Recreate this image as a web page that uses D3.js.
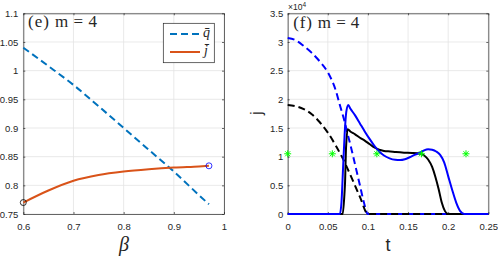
<!DOCTYPE html>
<html>
<head>
<meta charset="utf-8">
<script src="https://cdn.jsdelivr.net/npm/d3@7"></script>
<style>
body { margin: 0; background: #fff; }
text { font-family: "Liberation Sans", Arial, sans-serif; fill: #262626; }
</style>
</head>
<body>
<div id="chart"></div>
<script>
// panel (e): mean values against beta
var beta = [0.6, 0.65, 0.7, 0.75, 0.8, 0.85, 0.9, 0.95, 0.97];
var qBar = [1.04, 1.008, 0.975, 0.938, 0.90, 0.862, 0.824, 0.783, 0.767];
var jBar = [0.770, 0.791, 0.808, 0.818, 0.824, 0.828, 0.831, 0.833, 0.834];
var eXTicks = [0.6, 0.7, 0.8, 0.9, 1];
var eYTicks = [0.75, 0.8, 0.85, 0.9, 0.95, 1, 1.05, 1.1];

// panel (f): j(t), values in units of 1e4
var tBlueDash = [0, 0.01, 0.02, 0.03, 0.04, 0.05, 0.06, 0.065, 0.07, 0.075, 0.08, 0.085, 0.09, 0.095, 0.1, 0.25];
var vBlueDash = [3.07, 3.03, 2.93, 2.81, 2.66, 2.47, 2.15, 1.90, 1.66, 1.38, 1.10, 0.80, 0.50, 0.20, 0, 0];
var tBlackDash = [0, 0.01, 0.02, 0.03, 0.04, 0.05, 0.06, 0.07, 0.08, 0.09, 0.1, 0.25];
var vBlackDash = [1.90, 1.88, 1.83, 1.74, 1.60, 1.42, 1.19, 0.93, 0.62, 0.30, 0, 0];
var tBlue = [0, 0.065, 0.067, 0.069, 0.071, 0.073, 0.0755, 0.078, 0.084, 0.09, 0.096, 0.102, 0.108, 0.114, 0.12, 0.127,
  0.134, 0.14, 0.146, 0.152, 0.158, 0.165, 0.17, 0.175, 0.18, 0.185, 0.19, 0.195, 0.2, 0.205, 0.21, 0.215, 0.22, 0.25];
var vBlue = [0, 0, 0.2, 0.8, 1.4, 1.78, 1.90, 1.84, 1.72, 1.58, 1.44, 1.31, 1.19, 1.09, 1.02, 0.97,
  0.945, 0.94, 0.955, 0.99, 1.03, 1.07, 1.11, 1.13, 1.12, 1.09, 1.03, 0.90, 0.66, 0.42, 0.20, 0.05, 0, 0];
var tBlack = [0, 0.0685, 0.0705, 0.0715, 0.0727, 0.0748, 0.078, 0.084, 0.09, 0.096, 0.102, 0.108, 0.114, 0.12, 0.128,
  0.135, 0.145, 0.155, 0.165, 0.17, 0.175, 0.18, 0.184, 0.188, 0.192, 0.196, 0.2, 0.25];
var vBlack = [0, 0, 0.3, 0.56, 1.15, 1.48, 1.44, 1.39, 1.33, 1.28, 1.22, 1.16, 1.12, 1.10, 1.09,
  1.08, 1.07, 1.065, 1.05, 1.02, 0.95, 0.82, 0.65, 0.44, 0.2, 0.05, 0, 0];
var tStar = [0, 0.0556, 0.1111, 0.1667, 0.2222];
var vStar = [1.05, 1.05, 1.05, 1.05, 1.05];
var fXTicks = [0, 0.05, 0.1, 0.15, 0.2, 0.25];
var fYTicks = [0, 0.5, 1, 1.5, 2, 2.5, 3, 3.5];

var svg = d3.select("#chart")
  .append("svg")
  .attr("width", 498)
  .attr("height", 256);

var yTop = 13.3, yBot = 214;

function panel(xDom, xRange, yDom, xTicks, yTicks, labGap) {
  var x = d3.scaleLinear().domain(xDom).range(xRange);
  var y = d3.scaleLinear().domain(yDom).range([yBot, yTop]);
  var g = svg.append("g");

  // grid
  g.selectAll(".gx").data(xTicks).enter().append("line")
    .attr("x1", d => x(d)).attr("x2", d => x(d))
    .attr("y1", yTop).attr("y2", yBot)
    .attr("stroke", "#e3e3e3").attr("stroke-width", 0.8);
  g.selectAll(".gy").data(yTicks).enter().append("line")
    .attr("x1", xRange[0]).attr("x2", xRange[1])
    .attr("y1", d => y(d)).attr("y2", d => y(d))
    .attr("stroke", "#e3e3e3").attr("stroke-width", 0.8);

  var fmt = function(d) { return String(d); };
  var ax = [
    [d3.axisBottom(x).tickValues(xTicks).tickFormat(fmt), "translate(0," + yBot + ")"],
    [d3.axisTop(x).tickValues(xTicks).tickFormat(""), "translate(0," + yTop + ")"],
    [d3.axisLeft(y).tickValues(yTicks).tickFormat(fmt), "translate(" + xRange[0] + ",0)"],
    [d3.axisRight(y).tickValues(yTicks).tickFormat(""), "translate(" + xRange[1] + ",0)"]
  ];
  ax.forEach(function(a, i) {
    var s = g.append("g").attr("transform", a[1])
      .call(a[0].tickSizeInner(-2).tickSizeOuter(0).tickPadding(i == 0 ? 9 : labGap));
    s.selectAll("path, line").attr("stroke", "#262626").attr("stroke-width", 0.7);
    s.selectAll("text").style("font-size", "9.5px").attr("fill", "#262626")
      .style("font-family", "'Liberation Sans', Arial, sans-serif");
  });
  return { x: x, y: y, g: g };
}

// ---------- panel (e)
var e = panel([0.6, 1], [23.3, 224], [0.75, 1.1], eXTicks, eYTicks, 5);
var lineE = d3.line().x(d => e.x(d[0])).y(d => e.y(d[1])).curve(d3.curveMonotoneX);

e.g.append("path")
  .datum(d3.zip(beta, qBar))
  .attr("fill", "none").attr("stroke", "#0072BD").attr("stroke-width", 2)
  .attr("stroke-dasharray", "7,4")
  .attr("d", lineE);
e.g.append("path")
  .datum(d3.zip(beta, jBar))
  .attr("fill", "none").attr("stroke", "#D95319").attr("stroke-width", 2)
  .attr("d", lineE);
e.g.append("circle")
  .attr("cx", e.x(beta[0])).attr("cy", e.y(jBar[0])).attr("r", 3)
  .attr("fill", "none").attr("stroke", "#000").attr("stroke-width", 0.8);
e.g.append("circle")
  .attr("cx", e.x(beta[beta.length - 1])).attr("cy", e.y(jBar[jBar.length - 1])).attr("r", 3)
  .attr("fill", "none").attr("stroke", "#0000FF").attr("stroke-width", 0.8);

e.g.append("text")
  .attr("x", 28).attr("y", 27)
  .style("font-family", "'Liberation Serif', 'DejaVu Serif', serif").style("font-size", "17px")
  .attr("fill", "#000").attr("textLength", 69).attr("lengthAdjust", "spacing")
  .text("(e) m\u2009=\u20094");

// legend
var leg = e.g.append("g");
leg.append("rect")
  .attr("x", 163.3).attr("y", 23.3).attr("width", 51).attr("height", 39.4)
  .attr("fill", "#fff").attr("stroke", "#262626").attr("stroke-width", 0.7);
leg.append("line").attr("x1", 170).attr("x2", 200).attr("y1", 34).attr("y2", 34)
  .attr("stroke", "#0072BD").attr("stroke-width", 2).attr("stroke-dasharray", "7,4");
leg.append("line").attr("x1", 170).attr("x2", 200).attr("y1", 52).attr("y2", 52)
  .attr("stroke", "#D95319").attr("stroke-width", 2);
leg.append("text").attr("x", 203).attr("y", 37)
  .style("font-family", "'Liberation Serif', serif").style("font-style", "italic").style("font-size", "14px")
  .attr("fill", "#000").text("q\u0304");
leg.append("text").attr("x", 204).attr("y", 55)
  .style("font-family", "'Liberation Serif', serif").style("font-style", "italic").style("font-size", "14px")
  .attr("fill", "#000").text("j\u0304");

svg.append("text")
  .attr("x", 124).attr("y", 251).attr("text-anchor", "middle")
  .style("font-family", "'Liberation Serif', serif").style("font-style", "italic").style("font-size", "20px")
  .attr("fill", "#262626").text("\u03B2");

// ---------- panel (f)
var f = panel([0, 0.25], [287.7, 488.3], [0, 3.5], fXTicks, fYTicks, 4.5);
var lineF = d3.line().x(d => f.x(d[0])).y(d => f.y(d[1])).curve(d3.curveMonotoneX);

var fSeries = [
  [tBlueDash, vBlueDash, "#0000FF", "7,4"],
  [tBlackDash, vBlackDash, "#000000", "7,4"],
  [tBlack, vBlack, "#000000", null],
  [tBlue, vBlue, "#0000FF", null]
];
fSeries.forEach(function(s) {
  f.g.append("path")
    .datum(d3.zip(s[0], s[1]))
    .attr("fill", "none").attr("stroke", s[2]).attr("stroke-width", 2)
    .attr("stroke-dasharray", s[3])
    .attr("d", lineF);
});

f.g.selectAll(".star").data(d3.zip(tStar, vStar)).enter().append("path")
  .attr("d", function(d) {
    var cx = f.x(d[0]), cy = f.y(d[1]), r = 3.5, k = 2.5;
    return "M" + (cx - r) + "," + cy + "H" + (cx + r) +
      "M" + cx + "," + (cy - r) + "V" + (cy + r) +
      "M" + (cx - k) + "," + (cy - k) + "L" + (cx + k) + "," + (cy + k) +
      "M" + (cx - k) + "," + (cy + k) + "L" + (cx + k) + "," + (cy - k);
  })
  .attr("fill", "none").attr("stroke", "#00FF00").attr("stroke-width", 1);

f.g.append("text")
  .attr("x", 293.3).attr("y", 28)
  .style("font-family", "'Liberation Serif', 'DejaVu Serif', serif").style("font-size", "17px")
  .attr("fill", "#000").attr("textLength", 66).attr("lengthAdjust", "spacing")
  .text("(f) m\u2009=\u20094");

var mult = f.g.append("text").attr("x", 288).attr("y", 10)
  .style("font-size", "8.5px").attr("fill", "#262626");
mult.append("tspan").text("\u00D710");
mult.append("tspan").attr("dy", -3.5).style("font-size", "6.5px").text("4");

svg.append("text")
  .attr("x", 388).attr("y", 251).attr("text-anchor", "middle")
  .style("font-size", "18px").attr("fill", "#262626").text("t");
svg.append("text")
  .attr("transform", "translate(262,113) rotate(-90)").attr("text-anchor", "middle")
  .style("font-size", "17px").attr("fill", "#262626").text("j");
</script>
</body>
</html>
